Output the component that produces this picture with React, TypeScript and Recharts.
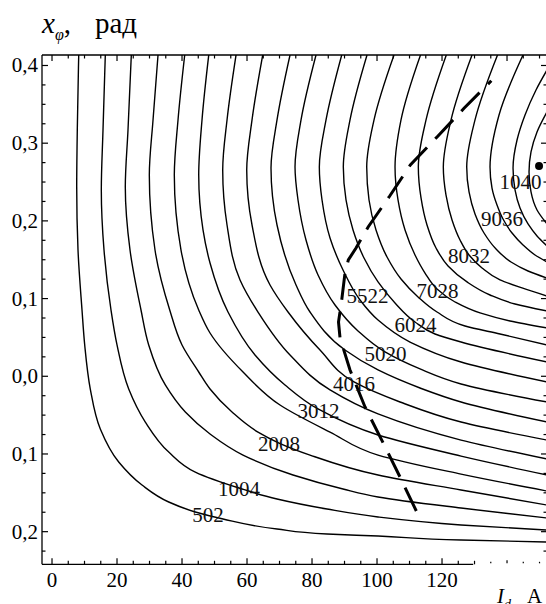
import React from 'react';
import { ComposedChart, Line, Scatter, XAxis, YAxis, ReferenceLine, ReferenceDot } from 'recharts';

// contour lines, [I_d, x_phi] pairs
const c502 = [[8.22, 0.4135], [7.78, 0.317], [7.6, 0.2436], [8.0, 0.1625], [9.23, 0.0853], [10.06, 0.0403], [11.78, -0.0164], [14.86, -0.0679], [20.52, -0.1104], [27.69, -0.14], [35.91, -0.1618], [44.09, -0.1747], [52.62, -0.1837], [69.23, -0.1966], [84.62, -0.203], [100.31, -0.2056], [125.85, -0.2108], [152.3, -0.2133]];
const c1004 = [[16.4, 0.4135], [15.69, 0.317], [15.17, 0.2398], [16.0, 0.1625], [18.15, 0.0853], [20.0, 0.0403], [23.6, -0.0164], [28.71, -0.0589], [35.91, -0.0975], [44.09, -0.1233], [57.54, -0.1438], [69.23, -0.158], [84.62, -0.1709], [100.31, -0.1811], [125.85, -0.1914], [152.3, -0.1979]];
const c1506 = [[24.4, 0.4135], [23.38, 0.317], [22.55, 0.2436], [24.0, 0.1625], [27.38, 0.0853], [29.75, 0.0403], [34.86, -0.0112], [41.02, -0.046], [48.62, -0.0743], [58.77, -0.1014], [74.15, -0.1271], [89.54, -0.1451], [100.31, -0.1553], [125.85, -0.1696], [152.3, -0.1824]];
const c2008 = [[32.62, 0.4135], [31.08, 0.3299], [29.94, 0.259], [31.69, 0.1625], [36.22, 0.0853], [40.0, 0.0403], [45.14, 0.0055], [48.62, -0.0164], [55.38, -0.046], [63.38, -0.0718], [69.85, -0.0859], [79.38, -0.1014], [100.31, -0.1271], [125.85, -0.1464], [152.3, -0.1657]];
const c2510 = [[40.83, 0.4135], [38.77, 0.3299], [37.63, 0.259], [39.69, 0.1625], [45.14, 0.0853], [48.62, 0.0557], [58.77, 0.0055], [70.15, -0.037], [85.54, -0.0718], [100.31, -0.1014], [125.85, -0.1259], [152.3, -0.1477]];
const c3012 = [[48.22, 0.4135], [46.15, 0.3299], [45.14, 0.259], [46.46, 0.1883], [48.62, 0.1458], [54.15, 0.0827], [62.46, 0.0274], [71.69, -0.0112], [81.85, -0.0421], [100.31, -0.0756], [125.85, -0.1027], [152.3, -0.1271]];
const c3514 = [[56.62, 0.4135], [53.85, 0.3299], [52.52, 0.2655], [53.85, 0.1947], [57.85, 0.124], [63.38, 0.0827], [73.23, 0.0274], [85.54, -0.0176], [100.31, -0.0485], [125.85, -0.0821], [152.3, -0.1065]];
const c4016 = [[64.83, 0.4135], [61.54, 0.3299], [59.91, 0.2655], [61.54, 0.1947], [67.08, 0.1175], [72.62, 0.0827], [82.46, 0.0338], [92.92, -0.0073], [107.08, -0.0331], [125.85, -0.0589], [152.3, -0.0821]];
const c4518 = [[73.23, 0.4135], [69.23, 0.3299], [67.38, 0.2681], [69.23, 0.1947], [75.08, 0.1175], [79.38, 0.0827], [90.15, 0.0338], [100.31, 0.0081], [113.23, -0.0151], [125.85, -0.0331], [152.3, -0.0589]];
const c5020 = [[81.23, 0.4135], [76.62, 0.3299], [74.77, 0.2694], [75.69, 0.2269], [78.15, 0.1754], [81.85, 0.1304], [87.08, 0.0917], [94.15, 0.0583], [102.46, 0.0313], [113.23, 0.0094], [125.85, -0.0099], [152.3, -0.0331]];
const c5522 = [[89.14, 0.4135], [84.31, 0.3299], [82.25, 0.2694], [83.08, 0.2269], [85.54, 0.178], [89.54, 0.1368], [94.77, 0.0982], [100.31, 0.0724], [110.15, 0.0441], [125.85, 0.0184], [152.3, -0.0073]];
const c6024 = [[96.92, 0.4135], [91.69, 0.3299], [89.63, 0.2694], [90.46, 0.2269], [92.62, 0.1883], [96.0, 0.1522], [100.31, 0.1214], [105.54, 0.0943], [111.69, 0.0699], [117.85, 0.0544], [125.85, 0.0441], [152.3, 0.0184]];
const c6526 = [[105.23, 0.4135], [99.08, 0.3299], [96.83, 0.2694], [97.54, 0.2269], [99.69, 0.1883], [103.08, 0.1535], [107.38, 0.1252], [112.62, 0.1021], [118.46, 0.0827], [127.08, 0.0647], [137.85, 0.0544], [152.3, 0.0403]];
const c7028 = [[113.38, 0.4135], [107.38, 0.3299], [105.54, 0.2694], [106.46, 0.2269], [108.62, 0.1883], [111.69, 0.1561], [114.77, 0.1329], [118.46, 0.1124], [124.0, 0.0956], [131.69, 0.0815], [140.92, 0.0712], [152.3, 0.0622]];
const c7530 = [[121.32, 0.4135], [115.08, 0.3299], [112.71, 0.2694], [113.54, 0.2295], [115.38, 0.1947], [118.15, 0.1651], [121.85, 0.142], [127.69, 0.1214], [134.77, 0.1046], [142.46, 0.093], [152.3, 0.084]];
const c8032 = [[129.23, 0.4135], [122.77, 0.3299], [120.4, 0.2694], [121.23, 0.2333], [123.08, 0.2012], [125.54, 0.1754], [128.31, 0.1561], [132.31, 0.1394], [137.85, 0.124], [144.62, 0.1137], [152.3, 0.1033]];
const c8534 = [[137.08, 0.4135], [130.15, 0.3299], [127.6, 0.2694], [128.31, 0.2372], [130.15, 0.2089], [132.92, 0.1844], [136.62, 0.1638], [141.23, 0.1471], [146.46, 0.1355], [152.3, 0.1265]];
const c9036 = [[144.92, 0.4135], [137.54, 0.3363], [134.77, 0.2694], [135.38, 0.2423], [136.92, 0.2205], [138.77, 0.2024], [141.54, 0.1844], [144.92, 0.169], [148.62, 0.1561], [152.3, 0.1471]];
const c9538 = [[152.3, 0.3942], [148.92, 0.3685], [145.54, 0.3363], [143.08, 0.3041], [141.85, 0.2681], [142.46, 0.2398], [144.0, 0.2166], [146.46, 0.196], [149.23, 0.1806], [152.3, 0.1677]];
const c10040 = [[152.3, 0.3402], [149.23, 0.3144], [147.38, 0.2887], [146.77, 0.2629], [147.38, 0.2372], [149.23, 0.214], [152.3, 0.196]];

const contours = [c502, c1004, c1506, c2008, c2510, c3012, c3514, c4016, c4518, c5020,
  c5522, c6024, c6526, c7028, c7530, c8032, c8534, c9036, c9538, c10040];

// dashed path, drawn from its lower end upward
const dashPath = [[112.09, -0.1734], [107.08, -0.1297], [101.45, -0.0821], [96.31, -0.0395], [91.69, 0.0081], [88.62, 0.0493], [88.15, 0.0699], [89.14, 0.0982], [90.15, 0.1329], [91.17, 0.1497], [93.54, 0.1651], [97.32, 0.1925], [103.91, 0.232], [110.25, 0.2719], [118.55, 0.3084], [126.77, 0.3449], [135.17, 0.3804]];

// contour labels as printed, with their centres
const labelText = ['502', '1004', '2008', '3012', '4016', '5020', '5522', '6024', '7028', '8032', '9036', '1040'];
const labelX = [48.0, 57.54, 69.85, 82.0, 92.92, 102.62, 97.08, 111.85, 118.62, 128.31, 138.46, 144.15];
const labelY = [-0.1785, -0.145, -0.0871, -0.0447, -0.0099, 0.0287, 0.1033, 0.066, 0.1098, 0.1548, 0.2024, 0.2501];

const maxPoint = { x: 149.85, y: 0.2707 };

const xTicks = [0, 5, 10, 15, 20, 25, 30, 35, 40, 45, 50, 55, 60, 65, 70, 75, 80, 85, 90, 95, 100, 105, 110, 115, 120, 125, 130, 135, 140, 145, 150];
const xLabels = [0, 20, 40, 60, 80, 100, 120];
const yTicks = [-0.225, -0.2, -0.175, -0.15, -0.125, -0.1, -0.075, -0.05, -0.025, 0, 0.025, 0.05, 0.075, 0.1, 0.125, 0.15, 0.175, 0.2, 0.225, 0.25, 0.275, 0.3, 0.325, 0.35, 0.375, 0.4];
const yMajor = [0.4, 0.3, 0.2, 0.1, 0, -0.1, -0.2];
const yMajorText = ['0,4', '0,3', '0,2', '0,1', '0,0', '0,1', '0,2'];

const X_DOMAIN = [-3.08, 152.3];
const Y_DOMAIN = [-0.242, 0.4135];
const serif = { fontFamily: "'Liberation Serif', 'DejaVu Serif', serif" };

const toPts = (arr: number[][]) => arr.map(([x, y]) => ({ x, y }));
const labelPts = labelText.map((text, i) => ({ x: labelX[i], y: labelY[i], text }));

const BottomTick = (props: any) => {
  const { x, y, payload } = props;
  const v = payload.value;
  const major = v % 20 === 0;
  let y1 = y;
  let y2 = y - (major ? 6 : 3.5);
  if (v > 130) {
    y1 = y - 1;
    y2 = y - (major ? 4 : 2.5);
  }
  return (
    <g>
      <line x1={x} x2={x} y1={y1} y2={y2} stroke="#000" strokeWidth={1.2} />
      {xLabels.includes(v) && (
        <text x={x} y={y + 23} textAnchor="middle" style={serif} fontSize={21} fill="#000">
          {v}
        </text>
      )}
    </g>
  );
};

const TopTick = (props: any) => {
  const { x, y, payload } = props;
  const major = payload.value % 20 === 0;
  return <line x1={x} x2={x} y1={y} y2={y + (major ? 6 : 3.5)} stroke="#000" strokeWidth={1.2} />;
};

const isMajorY = (v: number) => Math.abs(v * 10 - Math.round(v * 10)) < 1e-6;

const LeftTick = (props: any) => {
  const { x, y, payload } = props;
  const v = payload.value;
  const idx = yMajor.findIndex((m) => Math.abs(m - v) < 1e-6);
  return (
    <g>
      <line x1={x} x2={x + (isMajorY(v) ? 6 : 3.5)} y1={y} y2={y} stroke="#000" strokeWidth={1.2} />
      {idx >= 0 && (
        <text x={x - 4} y={y + 7} textAnchor="end" style={serif} fontSize={21} fill="#000">
          {yMajorText[idx]}
        </text>
      )}
    </g>
  );
};

const RightTick = (props: any) => {
  const { x, y, payload } = props;
  return <line x1={x} x2={x - (isMajorY(payload.value) ? 6 : 3.5)} y1={y} y2={y} stroke="#000" strokeWidth={1.2} />;
};

const renderLabel = (p: any) => (
  <text x={p.cx} y={p.cy + 7} textAnchor="middle" style={serif} fontSize={21} fill="#111">
    {p.payload.text}
  </text>
);

export default function App() {
  return (
    <div
      style={{
        position: 'fixed',
        left: 0,
        top: 0,
        width: 546,
        height: 604,
        overflow: 'hidden',
        background: '#fff',
      }}
    >
      <ComposedChart width={560} height={604} margin={{ top: 54, right: 12, bottom: 38.7, left: 41 }}>
        <XAxis
          dataKey="x"
          type="number"
          domain={X_DOMAIN}
          allowDataOverflow
          ticks={xTicks}
          interval={0}
          height={1}
          tickSize={0}
          tickMargin={0}
          axisLine={false}
          tickLine={false}
          tick={<BottomTick />}
        />
        <XAxis
          xAxisId="top"
          orientation="top"
          dataKey="x"
          type="number"
          domain={X_DOMAIN}
          allowDataOverflow
          ticks={xTicks}
          interval={0}
          height={1}
          tickSize={0}
          tickMargin={0}
          axisLine={{ stroke: '#000', strokeWidth: 1.3 }}
          tickLine={false}
          tick={<TopTick />}
        />
        <YAxis
          dataKey="y"
          type="number"
          domain={Y_DOMAIN}
          allowDataOverflow
          ticks={yTicks}
          interval={0}
          width={1}
          tickSize={0}
          tickMargin={0}
          axisLine={{ stroke: '#000', strokeWidth: 1.3 }}
          tickLine={false}
          tick={<LeftTick />}
        />
        <YAxis
          yAxisId="right"
          orientation="right"
          dataKey="y"
          type="number"
          domain={Y_DOMAIN}
          allowDataOverflow
          ticks={yTicks}
          interval={0}
          width={1}
          tickSize={0}
          tickMargin={0}
          axisLine={{ stroke: '#000', strokeWidth: 1.3 }}
          tickLine={false}
          tick={<RightTick />}
        />
        <ReferenceLine
          segment={[{ x: X_DOMAIN[0], y: Y_DOMAIN[0] }, { x: 129.6, y: Y_DOMAIN[0] }]}
          stroke="#000"
          strokeWidth={1.3}
          ifOverflow="visible"
        />
        {contours.map((c, i) => (
          <Line
            key={i}
            data={toPts(c)}
            dataKey="y"
            type="monotoneY"
            stroke="#000"
            strokeWidth={1.4}
            dot={false}
            activeDot={false}
            isAnimationActive={false}
          />
        ))}
        <Line
          data={toPts(dashPath)}
          dataKey="y"
          type="linear"
          stroke="#000"
          strokeWidth={3}
          strokeDasharray="26 12"
          dot={false}
          activeDot={false}
          isAnimationActive={false}
        />
        <ReferenceDot x={maxPoint.x} y={maxPoint.y} r={4} fill="#000" stroke="none" ifOverflow="visible" />
        <Scatter data={labelPts} dataKey="y" shape={renderLabel} isAnimationActive={false} />
      </ComposedChart>
      <svg width={546} height={604} style={{ position: 'absolute', left: 0, top: 0, pointerEvents: 'none' }}>
        <text x={42} y={33} style={serif} fontSize={29} fill="#000">
          <tspan fontStyle="italic">x</tspan>
          <tspan fontStyle="italic" fontSize={16} dy={7}>φ</tspan>
          <tspan dy={-7}>,</tspan>
        </text>
        <text x={95} y={33} style={serif} fontSize={29} fill="#000">рад</text>
        <text x={497} y={603} style={serif} fontSize={21} fill="#000">
          <tspan fontStyle="italic">I</tspan>
          <tspan fontStyle="italic" fontSize={14} dy={6}>d</tspan>
        </text>
        <text x={527} y={603} style={serif} fontSize={21} fill="#000">A</text>
      </svg>
    </div>
  );
}
